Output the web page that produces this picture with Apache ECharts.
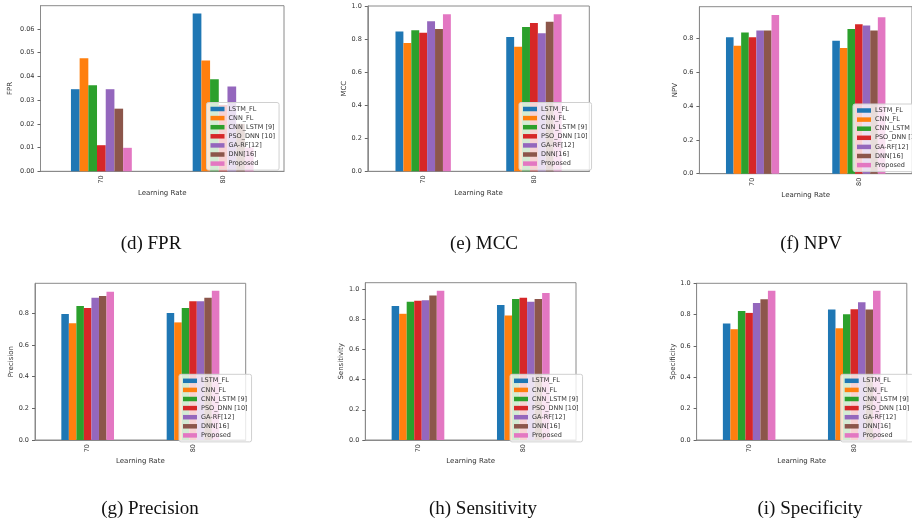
<!DOCTYPE html>
<html>
<head>
<meta charset="utf-8">
<script src="https://cdn.jsdelivr.net/npm/echarts@6/dist/echarts.min.js"></script>
<style>
  html, body { margin: 0; padding: 0; background: #fff; }
  #chart { width: 912px; height: 528px; }
</style>
</head>
<body>
<div id="chart"></div>
<script>
const categories = ["70", "80"];
const seriesNames = ["LSTM_FL", "CNN_FL", "CNN_LSTM [9]", "PSO_DNN [10]", "GA-RF[12]", "DNN[16]", "Proposed"];
const colors = ["#1f77b4", "#ff7f0e", "#2ca02c", "#d62728", "#9467bd", "#8c564b", "#e377c2"];

// one [70, 80] pair per model
const fprValues = [[0.0346, 0.0665], [0.0477, 0.0467], [0.0363, 0.0388], [0.0110, 0.0280], [0.0346, 0.0357], [0.0264, 0.0200], [0.0099, 0.0100]];
const mccValues = [[0.845, 0.813], [0.776, 0.754], [0.854, 0.873], [0.838, 0.897], [0.907, 0.835], [0.861, 0.904], [0.950, 0.950]];
const npvValues = [[0.806, 0.786], [0.756, 0.743], [0.835, 0.855], [0.806, 0.884], [0.847, 0.876], [0.847, 0.847], [0.938, 0.924]];
const precisionValues = [[0.796, 0.803], [0.737, 0.743], [0.846, 0.834], [0.834, 0.876], [0.899, 0.876], [0.909, 0.899], [0.937, 0.943]];
const sensitivityValues = [[0.887, 0.895], [0.836, 0.825], [0.916, 0.934], [0.922, 0.942], [0.926, 0.916], [0.957, 0.934], [0.989, 0.974]];
const specificityValues = [[0.743, 0.833], [0.707, 0.713], [0.823, 0.803], [0.811, 0.835], [0.875, 0.879], [0.898, 0.833], [0.953, 0.953]];

const panels = [
  { name: "FPR", values: fprValues, max: 0.0698, interval: 0.01, digits: 2, grid: [40.5, 5.7, 243.5, 165.6], nameGap: 27, legend: [206.5, 102.5], caption: "(d) FPR", cap: [151, 244] },
  { name: "MCC", values: mccValues, max: 1.0, interval: 0.2, digits: 1, grid: [367.8, 6, 221.5, 165.3], nameGap: 20, legend: [519, 102.5], caption: "(e) MCC", cap: [484, 244] },
  { name: "NPV", values: npvValues, max: 0.987, interval: 0.2, digits: 1, grid: [699.4, 6.7, 224.5, 167], nameGap: 20, legend: [853, 104], caption: "(f) NPV", cap: [811, 244] },
  { name: "Precision", values: precisionValues, max: 0.99, interval: 0.2, digits: 1, grid: [35, 283.3, 210.7, 156.7], nameGap: 19, legend: [179, 374.3], caption: "(g) Precision", cap: [150, 509] },
  { name: "Sensitivity", values: sensitivityValues, max: 1.042, interval: 0.2, digits: 1, grid: [365.3, 282.7, 210.7, 157.3], nameGap: 18.5, legend: [510, 374.3], caption: "(h) Sensitivity", cap: [483, 509] },
  { name: "Specificity", values: specificityValues, max: 1.0, interval: 0.2, digits: 1, grid: [696.6, 283.3, 210.2, 156.7], nameGap: 18.5, legend: [840.7, 374.3], caption: "(i) Specificity", cap: [810, 509] },
];

const font = "DejaVu Sans";
const grids = [], xAxes = [], yAxes = [], legends = [], series = [], graphics = [];

panels.forEach((p, i) => {
  grids.push({
    left: p.grid[0], top: p.grid[1], width: p.grid[2], height: p.grid[3],
    show: true, borderColor: "#8a8a8a", borderWidth: 1, backgroundColor: "transparent",
  });
  xAxes.push({
    gridIndex: i,
    type: "category",
    data: categories,
    name: "Learning Rate",
    nameLocation: "middle",
    nameGap: 18,
    nameTextStyle: { fontFamily: font, fontSize: 7, color: "#333" },
    axisLine: { lineStyle: { color: "#8a8a8a" } },
    axisTick: { alignWithLabel: true, length: 3, lineStyle: { color: "#666" } },
    axisLabel: { rotate: 90, fontFamily: font, fontSize: 6.5, color: "#333", margin: 4 },
  });
  yAxes.push({
    gridIndex: i,
    type: "value",
    min: 0,
    max: p.max,
    interval: p.interval,
    name: p.name,
    nameLocation: "middle",
    nameGap: p.nameGap,
    nameTextStyle: { fontFamily: font, fontSize: 7, color: "#333" },
    axisLine: { show: true, lineStyle: { color: "#8a8a8a" } },
    axisTick: { show: true, length: 3, lineStyle: { color: "#666" } },
    splitLine: { show: false },
    axisLabel: {
      fontFamily: font, fontSize: 6.5, color: "#333", margin: 6,
      showMaxLabel: p.max === 1.0,
      formatter: (v) => v.toFixed(p.digits),
    },
  });
  legends.push({
    orient: "vertical",
    left: p.legend[0],
    top: p.legend[1],
    data: seriesNames,
    selectedMode: false,
    icon: "rect",
    itemWidth: 14,
    itemHeight: 4.5,
    itemGap: 1.1,
    padding: [2.5, 4],
    backgroundColor: "rgba(255,255,255,0.8)",
    borderColor: "#d0d0d0",
    borderWidth: 1,
    borderRadius: 2,
    textStyle: { fontFamily: font, fontSize: 6.5, color: "#333", lineHeight: 8, padding: [0, 0, 0, -1] },
  });
  seriesNames.forEach((s, k) => {
    series.push({
      name: s,
      type: "bar",
      xAxisIndex: i,
      yAxisIndex: i,
      data: p.values[k],
      barGap: "0%",
      barCategoryGap: "50%",
      itemStyle: { color: colors[k] },
    });
  });
  graphics.push({
    type: "text",
    x: p.cap[0],
    y: p.cap[1],
    style: {
      text: p.caption,
      fill: "#111",
      font: "19px 'Liberation Serif'",
      textAlign: "center",
      textVerticalAlign: "middle",
    },
  });
});

const chart = echarts.init(document.getElementById("chart"), null, { renderer: "canvas" });
chart.setOption({
  animation: false,
  backgroundColor: "#fff",
  color: colors,
  grid: grids,
  xAxis: xAxes,
  yAxis: yAxes,
  legend: legends,
  series: series,
  graphic: graphics,
});
</script>
</body>
</html>
